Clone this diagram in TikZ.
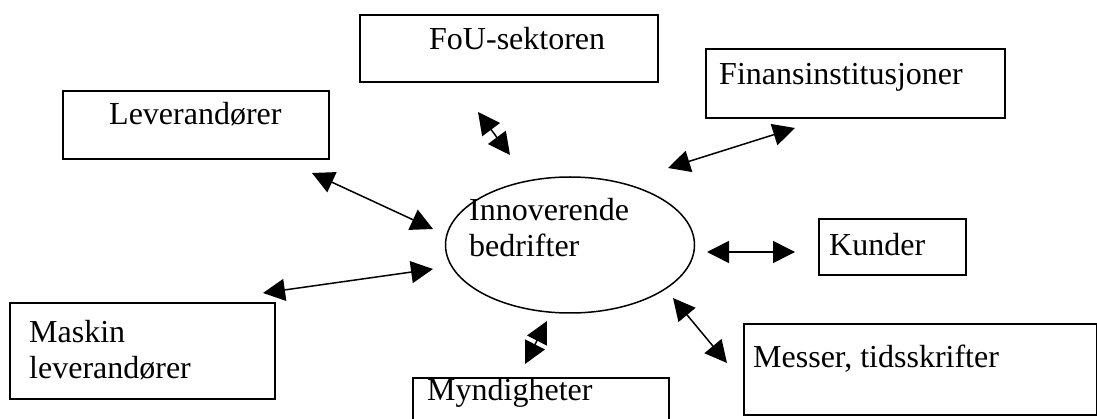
\documentclass[tikz,border=0pt]{standalone}
\usepackage{fontspec}
\setmainfont{Liberation Serif}
\usetikzlibrary{arrows.meta,shapes.geometric}

\tikzset{
  box/.style={draw, line width=1.6pt, rectangle, inner sep=0pt, anchor=north west},
  lbl/.style={inner sep=0pt, anchor=base west, align=left, font=\fontsize{32}{36}\selectfont},
  link/.style={line width=1.5pt, {Triangle[length=22pt,width=22pt]}-{Triangle[length=22pt,width=22pt]}}
}

\begin{document}
\begin{tikzpicture}[x=1pt,y=-1pt]
    \useasboundingbox (0,0) rectangle (1097,419);

    % Centre
    \node[draw, ellipse, line width=1.5pt, minimum width=249pt, minimum height=136pt, inner sep=0pt] (bedr) at (570,245) {};
    \node[lbl] (bedrtxt) at (469,257) {Innoverende\\bedrifter};

    % Boxes
    \node[box, minimum width=298pt, minimum height=67pt] (fou) at (359,14) {};
    \node[box, minimum width=299pt, minimum height=69pt] (finans) at (705,48) {};
    \node[box, minimum width=266pt, minimum height=68pt] (lev) at (62,90) {};
    \node[box, minimum width=147pt, minimum height=56pt] (kunder) at (818,218) {};
    \node[box, minimum width=265pt, minimum height=96pt] (maskin) at (9,302) {};
    \node[box, minimum width=353pt, minimum height=91pt] (messer) at (743,323) {};
    \node[box, minimum width=256pt, minimum height=70pt] (myn) at (412,377) {};

    % Labels
    \node[lbl] (foutxt) at (429,50) {FoU-sektoren};
    \node[lbl] (finanstxt) at (719,85) {Finansinstitusjoner};
    \node[lbl] (levtxt) at (109,125) {Leverandører};
    \node[lbl] (kundertxt) at (829,256) {Kunder};
    \node[lbl] (maskintxt) at (29,378) {Maskin\\leverandører};
    \node[lbl] (messertxt) at (753,367) {Messer, tidsskrifter};
    \node[lbl] (myntxt) at (427,400) {Myndigheter};

    % Coordinates
    \coordinate (fou1) at (478,112);
    \coordinate (fou2) at (510,155);
    \coordinate (fin1) at (668,168);
    \coordinate (fin2) at (795,128);
    \coordinate (lev1) at (312,173);
    \coordinate (lev2) at (433,229);
    \coordinate (mas1) at (263,293);
    \coordinate (mas2) at (433,269);
    \coordinate (kun1) at (707,252);
    \coordinate (kun2) at (795,252);
    \coordinate (mes1) at (673,298);
    \coordinate (mes2) at (727,363);
    \coordinate (myn1) at (547,321);
    \coordinate (myn2) at (525,364);

    % Draw arrows
    \draw[link] (fou1) -- (fou2);
    \draw[link] (fin1) -- (fin2);
    \draw[link] (lev1) -- (lev2);
    \draw[link] (mas1) -- (mas2);
    \draw[link] (kun1) -- (kun2);
    \draw[link] (mes1) -- (mes2);
    \draw[link] (myn1) -- (myn2);
\end{tikzpicture}
\end{document}
